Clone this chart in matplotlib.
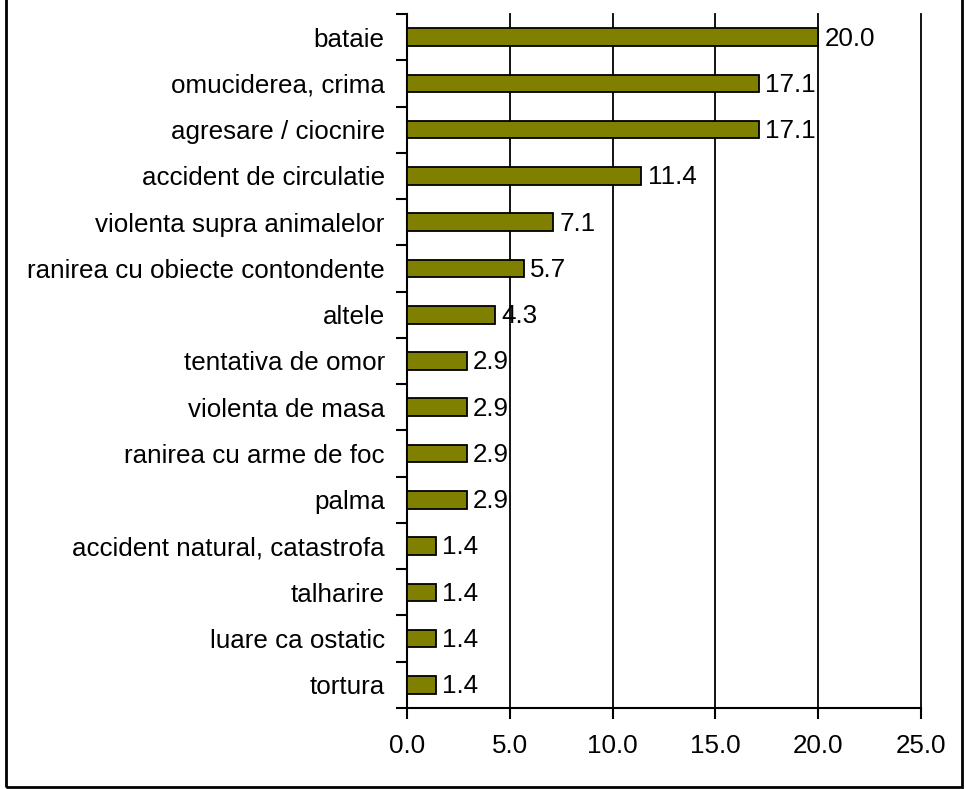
import matplotlib.pyplot as plt
from matplotlib.patches import Rectangle

plt.rcParams['font.family'] = ['Liberation Sans', 'DejaVu Sans']

categories = ["bataie", "omuciderea, crima", "agresare / ciocnire",
              "accident de circulatie", "violenta supra animalelor",
              "ranirea cu obiecte contondente", "altele", "tentativa de omor",
              "violenta de masa", "ranirea cu arme de foc", "palma",
              "accident natural, catastrofa", "talharire", "luare ca ostatic",
              "tortura"]
values = [20.0, 17.1, 17.1, 11.4, 7.1, 5.7, 4.3, 2.9, 2.9, 2.9, 2.9,
          1.4, 1.4, 1.4, 1.4]
xticks = [0, 5, 10, 15, 20, 25]

FS = 18.7

fig = plt.figure(figsize=(9.66, 7.89), dpi=100)
ax = fig.add_axes([407/966, 1-708/789, (921-407)/966, (708-14)/789])

n = len(categories)
ypos = list(range(n))
ax.barh(ypos, values, height=0.38, color='#808000', edgecolor='black',
        linewidth=1.3, zorder=3)
for y, v in zip(ypos, values):
    ax.text(v + 0.3, y + 0.03, f"{v:.1f}", va='center', ha='left', fontsize=FS)

ax.set_xlim(0, 25)
ax.set_ylim(n - 0.5, -0.5)
ax.set_xticks(xticks)
ax.set_xticklabels([f"{t:.1f}" for t in xticks], fontsize=FS)
ax.tick_params(axis='x', direction='out', length=8, width=1.5, pad=11)

# category labels between boundary ticks
ax.set_yticks([i - 0.5 for i in range(n + 1)])
ax.set_yticklabels([])
ax.set_yticks(ypos, minor=True)
ax.set_yticklabels(categories, minor=True, fontsize=FS)
ax.tick_params(axis='y', which='major', direction='out', length=8, width=1.5)
ax.tick_params(axis='y', which='minor', length=0, pad=16)

ax.grid(axis='x', color='black', linewidth=1.3, zorder=0)
for gl in ax.get_xgridlines():
    gl.set_clip_on(False)
ax.set_axisbelow(True)
for s in ['top', 'right']:
    ax.spines[s].set_visible(False)
for s in ['left', 'bottom']:
    ax.spines[s].set_linewidth(1.5)

fig.patches.append(Rectangle((6/966, 2/789), (962-6)/966, 1.0, transform=fig.transFigure,
                             fill=False, edgecolor='black', linewidth=2, clip_on=False))

fig.savefig('out.png', dpi=100)
